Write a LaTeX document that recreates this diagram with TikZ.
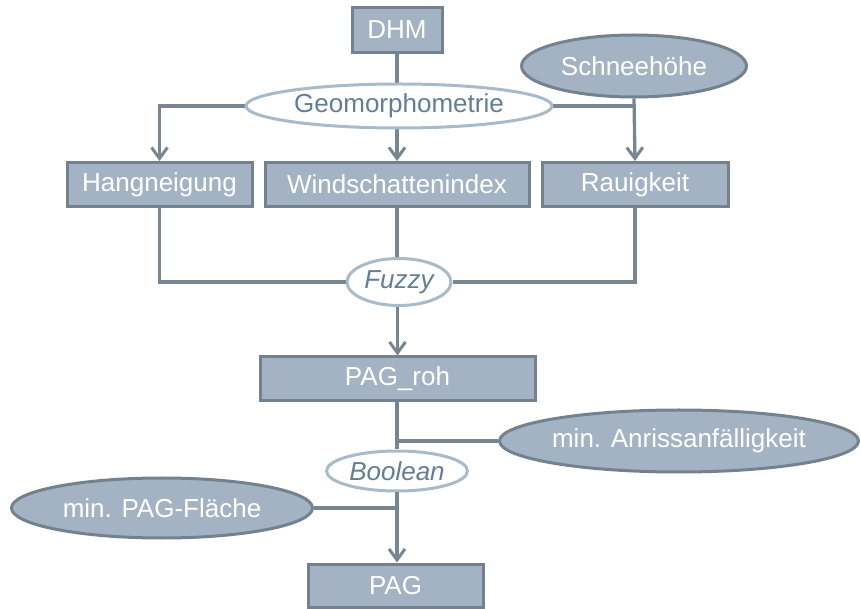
\documentclass[tikz,border=0pt]{standalone}
\usepackage{fontspec}
\setmainfont{Liberation Sans}
\usetikzlibrary{shapes.geometric,arrows.meta}

\definecolor{boxfill}{RGB}{163,179,195}
\definecolor{boxline}{RGB}{116,129,143}
\definecolor{wire}{RGB}{120,133,147}
\definecolor{opline}{RGB}{168,187,203}
\definecolor{optext}{RGB}{98,126,152}

\tikzset{
  x=1pt, y=-1pt,
  every node/.style={font=\fontsize{26}{30}\selectfont, inner sep=0pt},
  databox/.style={rectangle, draw=boxline, line width=3pt, fill=boxfill,
    text=white},
  dataell/.style={ellipse, draw=boxline, line width=3pt, fill=boxfill,
    text=white},
  opell/.style={ellipse, draw=opline, line width=3pt, fill=white,
    text=optext},
  wire/.style={draw=wire, line width=3.3pt},
  flow/.style={wire, -{Straight Barb[length=11pt,width=16pt,line width=3pt]}},
}

\begin{document}
\begin{tikzpicture}
\useasboundingbox (0,0) rectangle (860,609);

% junction points on the geomorphometry line
\coordinate (geoL) at (246,106);
\coordinate (geoR) at (552,106);

% input and derived layers
\node[databox, minimum width=90pt, minimum height=45pt] (dhm) at (397,30) {DHM};
\node[dataell, minimum width=225pt, minimum height=62pt] (schnee) at (634,66) {Schneehöhe};
\node[databox, minimum width=185pt, minimum height=44pt] (hang) at (159.5,184.5) {Hangneigung};
\node[databox, minimum width=264pt, minimum height=44pt] (wind) at (397,184.5) {Windschattenindex};
\node[databox, minimum width=186pt, minimum height=44pt] (rau) at (635,184.5) {Rauigkeit};

% geomorphometry branch (drawn before the ellipse that covers it)
\draw[wire] (dhm.south) -- (397,106);
\draw[flow] (397,106) -- (wind.north);
\draw[flow] (geoL) -| (hang.north);
\draw[wire] (geoR) -- (geoR -| rau.north);
\draw[flow] (schnee.south) -- (rau.north);
\node[opell, minimum width=306pt, minimum height=44pt] (geo) at (399,106) {Geomorphometrie};

% fuzzy combination
\node[opell, minimum width=104pt, minimum height=47pt] (fuzzy) at (399,282) {\itshape Fuzzy};
\node[databox, minimum width=275pt, minimum height=44pt] (pagroh) at (397.5,379) {PAG\_roh};
\draw[wire] (hang.south) |- (fuzzy.west);
\draw[wire] (rau.south) |- (fuzzy.east);
\draw[wire] (wind.south) -- (wind.south |- fuzzy.north);
\draw[flow] (fuzzy.south -| pagroh.north) -- (pagroh.north);

% boolean filtering
\node[dataell, minimum width=358pt, minimum height=62pt] (anriss) at (679,441) {min. Anrissanfälligkeit};
\node[opell, minimum width=141pt, minimum height=40pt] (bool) at (397,471) {\itshape Boolean};
\node[dataell, minimum width=301pt, minimum height=60pt] (flaeche) at (162,508) {min. PAG-Fläche};
\node[databox, minimum width=175pt, minimum height=43pt] (pag) at (395.5,585.5) {PAG};

\coordinate (jA) at (397,441);
\coordinate (jF) at (397,508);
\draw[wire] (pagroh.south -| jA) -- (jA |- bool.north);
\draw[wire] (anriss.west) -- (jA);
\draw[wire] (flaeche.east) -- (jF);
\draw[flow] (jA |- bool.south) -- (jA |- pag.north);
\end{tikzpicture}
\end{document}
